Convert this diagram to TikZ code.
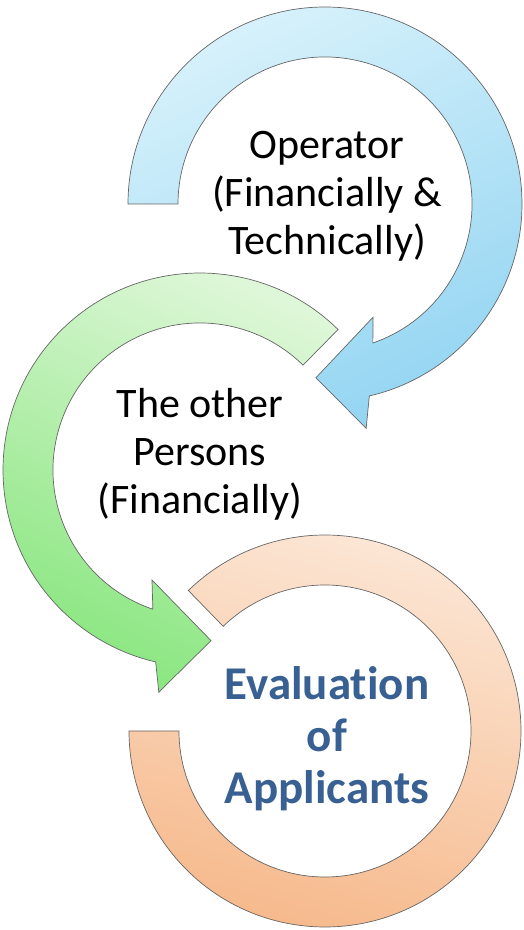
\documentclass[tikz,border=0pt]{standalone}
\usepackage{fontspec}
\setmainfont{Carlito}[Ligatures={NoCommon,NoRare}]
\usetikzlibrary{positioning}
\definecolor{bluelt}{RGB}{214,241,251}
\definecolor{bluedk}{RGB}{148,213,242}
\definecolor{greenlt}{RGB}{222,247,216}
\definecolor{greendk}{RGB}{136,230,126}
\definecolor{orangelt}{RGB}{252,232,216}
\definecolor{orangedk}{RGB}{246,184,138}
\definecolor{evalblue}{RGB}{56,96,146}

\begin{document}
\begin{tikzpicture}[x=1pt,y=1pt,
  ring/.style={draw=black!60, line width=0.7pt, line join=miter},
  lbl/.style={align=center, font=\fontsize{42}{48}\selectfont}]
\useasboundingbox (0,0) rectangle (524,930);

% centres of the three rings
\coordinate (cb) at (325,726);
\coordinate (cg) at (200,460);
\coordinate (co) at (325,199);

% orange ring (no head)
\path[ring, top color=orangelt, bottom color=orangedk, shading angle=-15]
  ([shift={(134.2:196)}]co) arc[start angle=134.2, end angle=-180, radius=196]
  -- ([shift={(180:146)}]co) arc[start angle=-180, end angle=134.2, radius=146] -- cycle;

% green arrow, counter clockwise
\path[ring, top color=greenlt, bottom color=greendk, shading angle=-25]
  ([shift={(45.5:197)}]cg) arc[start angle=45.5, end angle=257, radius=197]
  -- ([shift={(-100.5:226)}]cg) -- ([shift={(-86.3:171)}]cg) -- ([shift={(-113.6:120)}]cg)
  -- ([shift={(-108.7:147)}]cg) arc[start angle=251.3, end angle=45.5, radius=147] -- cycle;

% blue arrow, clockwise
\path[ring, top color=bluelt, bottom color=bluedk, shading angle=25]
  ([shift={(180:197)}]cb) arc[start angle=180, end angle=-77, radius=197]
  -- ([shift={(-79.6:228)}]cb) -- ([shift={(-93:174)}]cb) -- ([shift={(-67:123)}]cb)
  -- ([shift={(-71:147)}]cb) arc[start angle=-71, end angle=180, radius=147] -- cycle;

\node[lbl] (op) at (327,734) {Operator\\(Financially \&\\Technically)};
\node[lbl] (oth) at (200,476) {The other\\Persons\\(Financially)};
\node[lbl, font=\fontsize{47}{52}\selectfont\bfseries, text=evalblue] (ev) at (327,191)
  {Evaluat\kern0pt ion\\of\\Applicants};
\end{tikzpicture}
\end{document}
